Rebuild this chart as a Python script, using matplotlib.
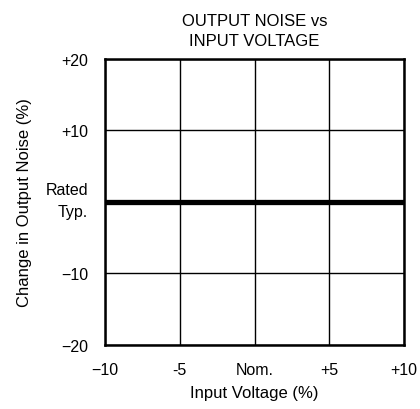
import numpy as np
import matplotlib
matplotlib.use("Agg")
import matplotlib.pyplot as plt
import matplotlib.transforms as mtransforms

plt.rcParams['font.family'] = ['Liberation Sans', 'DejaVu Sans']

x_ticks = [-10, -5, 0, 5, 10]
x_labels = ['\u221210', '-5', 'Nom.', '+5', '+10']
y_ticks = [-20, -10, 0, 10, 20]
y_labels = ['\u221220', '\u221210', 'Rated\nTyp.', '+10', '+20']

# typical curve: flat at rated value
voltage = [-10, -5, 0, 5, 10]
noise_change = [0, 0, 0, 0, 0]


def main():
	fig = plt.figure(figsize=(4.2, 4.1), dpi=100)
	ax = fig.add_axes([0.25, 0.156, 0.712, 0.698])

	ax.plot(voltage, noise_change, color='black', linewidth=3.8, solid_capstyle='butt', clip_on=False)

	ax.set_xlim(-10, 10)
	ax.set_ylim(-20, 20)
	ax.set_xticks(x_ticks)
	ax.set_xticklabels(x_labels, fontsize=11.5)
	ax.set_yticks(y_ticks)
	ax.set_yticklabels(y_labels, fontsize=11.5, ha='right', multialignment='right')
	ax.tick_params(axis='y', length=0, pad=12)
	ax.tick_params(axis='x', length=0, pad=12)

	# nudge the two-line "Rated Typ." label up a little
	shift = mtransforms.ScaledTranslation(0, 5 / 72, fig.dpi_scale_trans)
	for lbl in ax.get_yticklabels():
		if '\n' in lbl.get_text():
			lbl.set_linespacing(1.6)
			lbl.set_transform(lbl.get_transform() + shift)

	ax.grid(True, color='black', linewidth=1.0)
	for s in ax.spines.values():
		s.set_linewidth(1.8)

	ax.set_xlabel('Input Voltage (%)', fontsize=12, labelpad=6)
	ax.set_ylabel('Change in Output Noise (%)', fontsize=12, labelpad=10)
	ax.set_title('OUTPUT NOISE vs\nINPUT VOLTAGE', fontsize=12, pad=10, linespacing=1.45)

	fig.savefig('out.png', dpi=100)

if __name__ == '__main__':
	main()
